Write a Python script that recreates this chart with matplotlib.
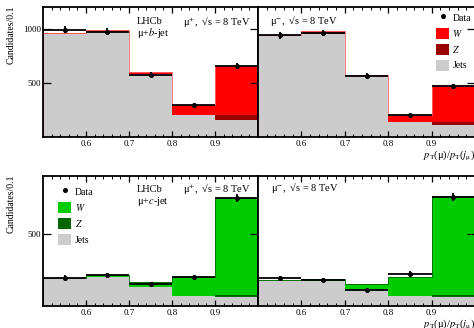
import matplotlib
matplotlib.use("Agg")
import matplotlib.pyplot as plt
from matplotlib.patches import Patch
from matplotlib.lines import Line2D
import numpy as np

plt.rcParams['font.family'] = ['Liberation Serif', 'DejaVu Serif']
plt.rcParams['mathtext.fontset'] = 'stix'

# Bin edges of pT(mu)/pT(j_mu)
edges = [0.5, 0.6, 0.7, 0.8, 0.9, 1.0]

# mu + b-jet, mu+ charge
b_plus_data = [991, 970, 575, 293, 652]
b_plus_err = [33, 32, 25, 18, 27]
b_plus_jets = [952, 966, 578, 200, 158]
b_plus_z = [0, 0, 0, 2, 42]
b_plus_w = [8, 22, 25, 90, 459]

# mu + b-jet, mu- charge
b_minus_data = [938, 960, 563, 206, 470]
b_minus_err = [32, 32, 25, 15, 23]
b_minus_jets = [935, 955, 560, 140, 115]
b_minus_z = [0, 0, 0, 2, 25]
b_minus_w = [8, 20, 10, 65, 328]

# mu + c-jet, mu+ charge
c_plus_data = [197, 213, 151, 201, 750]
c_plus_err = [15, 15, 13, 15, 28]
c_plus_jets = [192, 198, 134, 66, 60]
c_plus_z = [0, 0, 0, 0, 16]
c_plus_w = [3, 14, 31, 137, 674]

# mu + c-jet, mu- charge
c_minus_data = [196, 181, 108, 224, 752]
c_minus_err = [15, 14, 11, 16, 28]
c_minus_jets = [170, 176, 114, 68, 60]
c_minus_z = [0, 0, 0, 0, 16]
c_minus_w = [8, 8, 37, 132, 686]

xticks = [0.6, 0.7, 0.8, 0.9]
tick_labels = ["0.6", "0.7", "0.8", "0.9"]

b_colors = {"W": "#ff0000", "Z": "#990000", "line": "#ff6666"}
c_colors = {"W": "#00cc00", "Z": "#006600", "line": "#006600"}
jets_color = "#cccccc"

W_PX, H_PX = 474, 328
fig = plt.figure(figsize=(W_PX / 100, H_PX / 100), dpi=100)


def px_axes(x0, x1, y0, y1):
    return fig.add_axes([x0 / W_PX, 1 - y1 / H_PX, (x1 - x0) / W_PX, (y1 - y0) / H_PX])


ax_tl = px_axes(43, 258, 7, 137)
ax_tr = px_axes(258, 475, 7, 137)
ax_bl = px_axes(43, 258, 176, 306)
ax_br = px_axes(258, 475, 176, 306)


def draw(ax, data, err, jets, z, w, cols):
    jets = np.array(jets, float)
    z = np.array(z, float)
    w = np.array(w, float)
    jz = jets + z
    tot = jz + w
    ax.stairs(jets, edges, baseline=0, fill=True, color=jets_color, lw=0)
    ax.stairs(jz, edges, baseline=jets, fill=True, color=cols["Z"], lw=0)
    ax.stairs(tot, edges, baseline=jz, fill=True, color=cols["W"], lw=0)
    ax.stairs(tot, edges, color=cols["line"], lw=0.6)
    centers = 0.5 * (np.array(edges[:-1]) + np.array(edges[1:]))
    ax.errorbar(centers, data, xerr=0.05, yerr=err, fmt='o', ms=2.6,
                color='k', elinewidth=1.3, capsize=0, zorder=5)


def style(ax, ylim, yticks, left_labels, right_only=False):
    ax.set_xlim(0.5, 1.0)
    ax.set_ylim(*ylim)
    ax.set_xticks(xticks)
    ax.set_xticklabels(tick_labels)
    ax.set_yticks(yticks)
    for s in ax.spines.values():
        s.set_linewidth(1.3)
    ax.set_xticks(np.arange(0.52, 1.0, 0.02), minor=True)
    ax.yaxis.set_minor_locator(matplotlib.ticker.NullLocator())
    ax.tick_params(axis='x', which='major', direction='in', top=True, bottom=True,
                   length=4, width=0.9, labelsize=6.5, pad=2.5)
    ax.tick_params(axis='x', which='minor', direction='in', top=True, bottom=True,
                   length=2.2, width=0.7)
    ax.tick_params(axis='y', which='major', direction='in', length=6, width=0.9,
                   labelsize=6.5, pad=1.5, left=not right_only, right=True,
                   labelleft=left_labels)


draw(ax_tl, b_plus_data, b_plus_err, b_plus_jets, b_plus_z, b_plus_w, b_colors)
draw(ax_tr, b_minus_data, b_minus_err, b_minus_jets, b_minus_z, b_minus_w, b_colors)
draw(ax_bl, c_plus_data, c_plus_err, c_plus_jets, c_plus_z, c_plus_w, c_colors)
draw(ax_br, c_minus_data, c_minus_err, c_minus_jets, c_minus_z, c_minus_w, c_colors)

style(ax_tl, (0, 1200), [500, 1000], True)
style(ax_tr, (0, 1200), [500, 1000], False, True)
style(ax_bl, (0, 900), [500], True)
style(ax_br, (0, 900), [500], False, True)

for ax in (ax_tl, ax_bl):
    ax.set_ylabel("Candidates/0.1", fontsize=7, loc='top')
    ax.yaxis.set_label_coords(-0.125, 1.01)
for ax in (ax_tr, ax_br):
    ax.set_xlabel(r"$p_{\mathrm{T}}$(μ)/$p_{\mathrm{T}}$($j_{\mathrm{μ}}$)",
                  fontsize=7.5, loc='right', labelpad=0)

txt = dict(fontsize=7.5, ha='left', va='center')
ax_tl.text(0.437, 0.892, "LHCb", transform=ax_tl.transAxes, **txt)
ax_tl.text(0.437, 0.80, r"μ+$b$-jet", transform=ax_tl.transAxes, **txt)
ax_tl.text(0.651, 0.892, r"μ$^{+}$,  √s = 8 TeV", transform=ax_tl.transAxes, **txt)
ax_tr.text(0.055, 0.90, r"μ$^{-}$,  √s = 8 TeV", transform=ax_tr.transAxes, **txt)
ax_bl.text(0.437, 0.90, "LHCb", transform=ax_bl.transAxes, **txt)
ax_bl.text(0.437, 0.80, r"μ+$c$-jet", transform=ax_bl.transAxes, **txt)
ax_bl.text(0.651, 0.90, r"μ$^{+}$,  √s = 8 TeV", transform=ax_bl.transAxes, **txt)
ax_br.text(0.06, 0.908, r"μ$^{-}$,  √s = 8 TeV", transform=ax_br.transAxes, **txt)


def legend(ax, cols, anchor):
    handles = [Line2D([], [], marker='o', ls='none', color='k', ms=2.6),
               Patch(facecolor=cols["W"], lw=0),
               Patch(facecolor=cols["Z"], lw=0),
               Patch(facecolor=jets_color, lw=0)]
    labels = ["Data", r"$W$", r"$Z$", "Jets"]
    ax.legend(handles, labels, loc='upper left', bbox_to_anchor=anchor, frameon=False,
              fontsize=7, handlelength=1.35, handleheight=1.35, labelspacing=0.5,
              handletextpad=0.35, borderpad=0, borderaxespad=0)


legend(ax_tr, b_colors, (0.82, 0.963))
legend(ax_bl, c_colors, (0.07, 0.923))

fig.savefig("out.png", dpi=100)
